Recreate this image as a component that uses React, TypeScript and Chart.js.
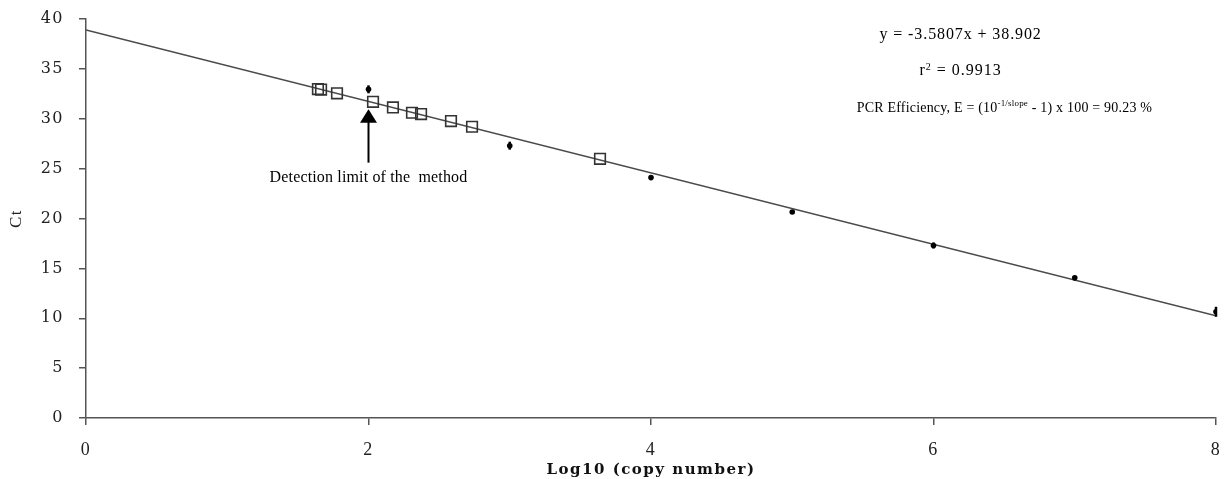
import React, { useEffect, useRef } from "react";
import { Chart, registerables } from "chart.js";

Chart.register(...registerables);

// Standard curve samples (open squares)
const standardLog = [1.642, 1.664, 1.777, 2.032, 2.173, 2.308, 2.372, 2.584, 2.733, 3.639];
const standardCt = [32.98, 32.93, 32.55, 31.7, 31.14, 30.6, 30.47, 29.77, 29.2, 25.98];

// Ten-fold dilution series (filled dots with error bars)
const dilutionLog = [2, 3, 4, 5, 6, 7, 8];
const dilutionCt = [32.95, 27.3, 24.1, 20.65, 17.3, 14.05, 10.65];
const dilutionSd = [0.4, 0.4, 0.15, 0.15, 0.3, 0.2, 0.5];

// Linear regression of the standard curve
const slope = -3.5807;
const intercept = 38.902;
const fitRange = [0, 8];

// Axis ranges / tick steps
const xRange = [0, 8];
const xStep = 2;
const yRange = [0, 40];
const yStep = 5;

// Text shown on the plot
const equationText = "y = -3.5807x + 38.902";
const r2Value = "0.9913";
const efficiencyPrefix = "PCR Efficiency, E = (10";
const efficiencySup = "-1/slope";
const efficiencySuffix = " - 1) x 100 = 90.23 %";
const detectionLabel = "Detection limit of the  method";
const detectionLog = 2;
const detectionArrowTip = 30.95;
const detectionArrowBase = 25.6;

const serif = "'Liberation Serif', 'Times New Roman', serif";
const wideSerif = "'DejaVu Serif', serif";

// Axis text is drawn slightly letter-spaced; reset before the marks are drawn
const axisSpacingPlugin = {
  id: "axisSpacing",
  beforeDraw(chart: any) {
    chart.ctx.letterSpacing = "1.5px";
  },
  beforeDatasetsDraw(chart: any) {
    chart.ctx.letterSpacing = "0px";
  },
};

const errorBarPlugin = {
  id: "errorBars",
  afterDatasetsDraw(chart: any) {
    const { ctx, scales } = chart;
    const xs = scales.x;
    const ys = scales.y;
    ctx.save();
    ctx.strokeStyle = "#000";
    ctx.lineWidth = 2.5;
    dilutionLog.forEach((lx, i) => {
      const px = xs.getPixelForValue(lx);
      const top = ys.getPixelForValue(dilutionCt[i] + dilutionSd[i]);
      const bot = ys.getPixelForValue(dilutionCt[i] - dilutionSd[i]);
      ctx.beginPath();
      ctx.moveTo(px, top);
      ctx.lineTo(px, bot);
      ctx.stroke();
    });
    ctx.restore();
  },
};

const annotationPlugin = {
  id: "annotations",
  afterDraw(chart: any) {
    const { ctx, scales, chartArea } = chart;
    const xs = scales.x;
    const ys = scales.y;
    ctx.save();
    ctx.fillStyle = "#000";
    ctx.strokeStyle = "#000";

    // Detection limit arrow
    const ax = xs.getPixelForValue(detectionLog);
    const tip = ys.getPixelForValue(detectionArrowTip);
    const base = ys.getPixelForValue(detectionArrowBase);
    ctx.lineWidth = 2;
    ctx.beginPath();
    ctx.moveTo(ax, tip + 12);
    ctx.lineTo(ax, base);
    ctx.stroke();
    ctx.beginPath();
    ctx.moveTo(ax, tip);
    ctx.lineTo(ax - 8.5, tip + 13.5);
    ctx.lineTo(ax + 8.5, tip + 13.5);
    ctx.closePath();
    ctx.fill();

    ctx.letterSpacing = "0.15px";
    ctx.font = `16px ${serif}`;
    ctx.textAlign = "center";
    ctx.textBaseline = "middle";
    ctx.fillText(detectionLabel, ax, base + 15);

    // Regression summary
    const cx = chartArea.left + (chartArea.right - chartArea.left) * 0.774;
    ctx.letterSpacing = "0.9px";
    ctx.font = `16px ${serif}`;
    ctx.fillText(equationText, cx, chartArea.top + 16);

    // r² line
    ctx.letterSpacing = "1px";
    const rBase = "r";
    const rRest = " = " + r2Value;
    const wR = ctx.measureText(rBase).width;
    ctx.font = `10px ${serif}`;
    const wSup2 = ctx.measureText("2").width;
    ctx.font = `16px ${serif}`;
    const wRest = ctx.measureText(rRest).width;
    let sx = cx - (wR + wSup2 + wRest) / 2;
    const ry = chartArea.top + 52;
    ctx.textAlign = "left";
    ctx.fillText(rBase, sx, ry);
    sx += wR;
    ctx.font = `10px ${serif}`;
    ctx.fillText("2", sx, ry - 4);
    sx += wSup2;
    ctx.font = `16px ${serif}`;
    ctx.fillText(rRest, sx, ry);

    // Efficiency line
    ctx.letterSpacing = "0.2px";
    const ey = chartArea.top + 89;
    let ex = chartArea.left + (chartArea.right - chartArea.left) * 0.682;
    ctx.font = `14px ${serif}`;
    ctx.fillText(efficiencyPrefix, ex, ey);
    ex += ctx.measureText(efficiencyPrefix).width;
    ctx.font = `9px ${serif}`;
    ctx.fillText(efficiencySup, ex, ey - 4);
    ex += ctx.measureText(efficiencySup).width;
    ctx.font = `14px ${serif}`;
    ctx.fillText(efficiencySuffix, ex, ey);

    ctx.restore();
    ctx.letterSpacing = "0px";
  },
};

export default function App() {
  const canvasRef = useRef<HTMLCanvasElement | null>(null);

  useEffect(() => {
    const canvas = canvasRef.current;
    if (!canvas) return;

    const standardPoints = standardLog.map((x, i) => ({ x, y: standardCt[i] }));
    const dilutionPoints = dilutionLog.map((x, i) => ({ x, y: dilutionCt[i] }));
    const fitPoints = fitRange.map((x) => ({ x, y: slope * x + intercept }));

    const axisColor = "#555";

    const chart = new Chart(canvas, {
      type: "scatter",
      data: {
        datasets: [
          {
            label: "Fit",
            data: fitPoints,
            showLine: true,
            borderColor: "#4a4a4a",
            borderWidth: 1.5,
            pointRadius: 0,
            order: 3,
          },
          {
            label: "Dilution",
            data: dilutionPoints,
            pointStyle: "circle",
            pointRadius: 2.8,
            backgroundColor: "#000",
            borderColor: "#000",
            borderWidth: 0,
            order: 2,
          },
          {
            label: "Standards",
            data: standardPoints,
            pointStyle: "rect",
            pointRadius: 7.5,
            backgroundColor: "rgba(0,0,0,0)",
            borderColor: "#333",
            borderWidth: 1.6,
            order: 1,
          },
        ],
      },
      options: {
        responsive: false,
        animation: false,
        devicePixelRatio: 1,
        layout: { padding: { top: 19, right: 12, left: 0, bottom: 0 } },
        plugins: {
          legend: { display: false },
          tooltip: { enabled: false },
        },
        scales: {
          x: {
            type: "linear",
            min: xRange[0],
            max: xRange[1],
            afterFit(scale: any) {
              scale.height = 61;
              scale.paddingLeft = 0;
              scale.paddingRight = 0;
            },
            ticks: {
              stepSize: xStep,
              color: "#222",
              padding: 14,
              font: { family: serif, size: 18 },
            },
            grid: {
              drawOnChartArea: false,
              drawTicks: true,
              tickLength: 7,
              color: axisColor,
              lineWidth: 1.5,
            },
            border: { display: true, color: axisColor, width: 1.5 },
            title: {
              display: true,
              text: "Log10 (copy number)",
              color: "#111",
              font: { family: wideSerif, size: 15, weight: "bold" },
              padding: { top: 0, bottom: 0 },
            },
          },
          y: {
            type: "linear",
            min: yRange[0],
            max: yRange[1],
            afterFit(scale: any) {
              scale.width = 86;
              scale.paddingTop = 0;
              scale.paddingBottom = 0;
            },
            ticks: {
              stepSize: yStep,
              color: "#222",
              padding: 15,
              font: { family: wideSerif, size: 16 },
            },
            grid: {
              drawOnChartArea: false,
              drawTicks: true,
              tickLength: 7,
              color: axisColor,
              lineWidth: 1.5,
            },
            border: { display: true, color: axisColor, width: 1.5 },
            title: {
              display: true,
              text: "Ct",
              color: "#222",
              font: { family: serif, size: 17 },
              padding: { top: 6, bottom: 0 },
            },
          },
        },
      },
      plugins: [axisSpacingPlugin, errorBarPlugin, annotationPlugin],
    });

    return () => chart.destroy();
  }, []);

  return (
    <div style={{ position: "absolute", left: 0, top: 0, width: 1228, height: 479, background: "#fff" }}>
      <canvas ref={canvasRef} width={1228} height={479} />
    </div>
  );
}
